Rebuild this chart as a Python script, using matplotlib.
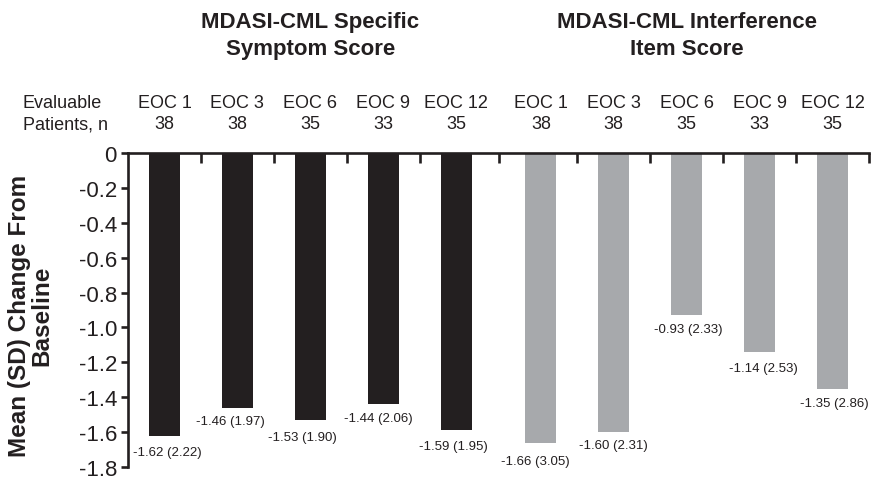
import matplotlib
matplotlib.use("Agg")
import matplotlib.pyplot as plt
import matplotlib.transforms as mtransforms
import numpy as np

plt.rcParams['font.family'] = ['Liberation Sans', 'DejaVu Sans']

# ---- data ----
timepoints = ["EOC 1", "EOC 3", "EOC 6", "EOC 9", "EOC 12"]
n_specific = [38, 38, 35, 33, 35]
n_interference = [38, 38, 35, 33, 35]
mean_specific = [-1.62, -1.46, -1.53, -1.44, -1.59]
sd_specific = [2.22, 1.97, 1.90, 2.06, 1.95]
mean_interference = [-1.66, -1.60, -0.93, -1.14, -1.35]
sd_interference = [3.05, 2.31, 2.33, 2.53, 2.86]
group_titles = ["MDASI-CML Specific\nSymptom Score", "MDASI-CML Interference\nItem Score"]
yticks = [0, -0.2, -0.4, -0.6, -0.8, -1.0, -1.2, -1.4, -1.6, -1.8]

# ---- styling / layout ----
BLACK = "#231f20"
GREY = "#a7a9ac"
W, H = 875, 481
GROUP_GAP = 0.164
BAR_W = 0.425
# label offsets (pixels) from bar end: (dx, dy)
label_offsets = [(3, -16), (-7, -13), (-7.5, -17), (-5, -14), (-3, -16),
                 (-5.5, -18), (-0.5, -13), (2, -14), (3.5, -16), (1.5, -14)]

fig = plt.figure(figsize=(W / 100, H / 100), dpi=100)
ax = fig.add_axes([128 / W, 1 - 468 / H, (869 - 128) / W, (468 - 154) / H])

nb = len(timepoints)
x_spec = np.arange(nb, dtype=float)
x_int = np.arange(nb, dtype=float) + nb + GROUP_GAP
xs = np.concatenate([x_spec, x_int])
means = list(mean_specific) + list(mean_interference)
sds = list(sd_specific) + list(sd_interference)
ns = list(n_specific) + list(n_interference)
labels_tp = timepoints + timepoints

ax.bar(x_spec, mean_specific, width=BAR_W, color=BLACK, linewidth=0, zorder=2)
ax.bar(x_int, mean_interference, width=BAR_W, color=GREY, linewidth=0, zorder=2)

xmin, xmax = -0.5, x_int[-1] + 0.5
ax.set_xlim(xmin, xmax)
ax.set_ylim(-1.8, 0)

# value labels
for x, m, s, (dx, dy) in zip(xs, means, sds, label_offsets):
    ax.annotate(f"{m:.2f} ({s:.2f})", xy=(x, m), xytext=(dx, dy),
                textcoords="offset pixels", ha="center", va="center",
                fontsize=9.5, color=BLACK)

# spines
for sp in ["right", "bottom"]:
    ax.spines[sp].set_visible(False)
ax.spines["left"].set_linewidth(1.9)
ax.spines["top"].set_linewidth(1.9)
ax.spines["left"].set_color(BLACK)
ax.spines["top"].set_color(BLACK)

# y axis
ax.set_yticks(yticks)
ax.set_yticklabels(["0" if v == 0 else f"{v:.1f}" for v in yticks])
ax.tick_params(axis="y", direction="out", length=5, width=1.9, colors=BLACK,
               labelsize=16, pad=3)

# x ticks on top spine pointing inward
mids = list((xs[:-1] + xs[1:]) / 2) + [xmax]
ax.xaxis.set_ticks_position("top")
ax.set_xticks(mids)
ax.tick_params(axis="x", direction="in", length=7, width=1.9, colors=BLACK,
               labeltop=False, labelbottom=False)

# header rows
trans = mtransforms.blended_transform_factory(ax.transData, fig.transFigure)
ROW1, ROW2 = 1 - 103 / H, 1 - 125 / H
for x, tp, n in zip(xs, labels_tp, ns):
    ax.text(x, ROW1, tp, transform=trans, ha="center", va="center",
            fontsize=13, color=BLACK)
    ax.text(x, ROW2, str(n), transform=trans, ha="center", va="center",
            fontsize=13, color=BLACK)
fig.text(23 / W, ROW1, "Evaluable", ha="left", va="center", fontsize=13, color=BLACK)
fig.text(23 / W, ROW2, "Patients, n", ha="left", va="center", fontsize=13, color=BLACK)

# group titles
for grp, title in zip([x_spec, x_int], group_titles):
    ax.text(grp.mean(), 1 - 36 / H, title, transform=trans, ha="center", va="center",
            fontsize=16, fontweight="bold", color=BLACK, linespacing=1.4)

# y label
fig.text(31 / W, 1 - 316 / H, "Mean (SD) Change From\nBaseline", rotation=90,
         ha="center", va="center", fontsize=17.5, fontweight="bold", color=BLACK,
         multialignment="center", linespacing=0.95)

fig.savefig("out.png", dpi=100)
